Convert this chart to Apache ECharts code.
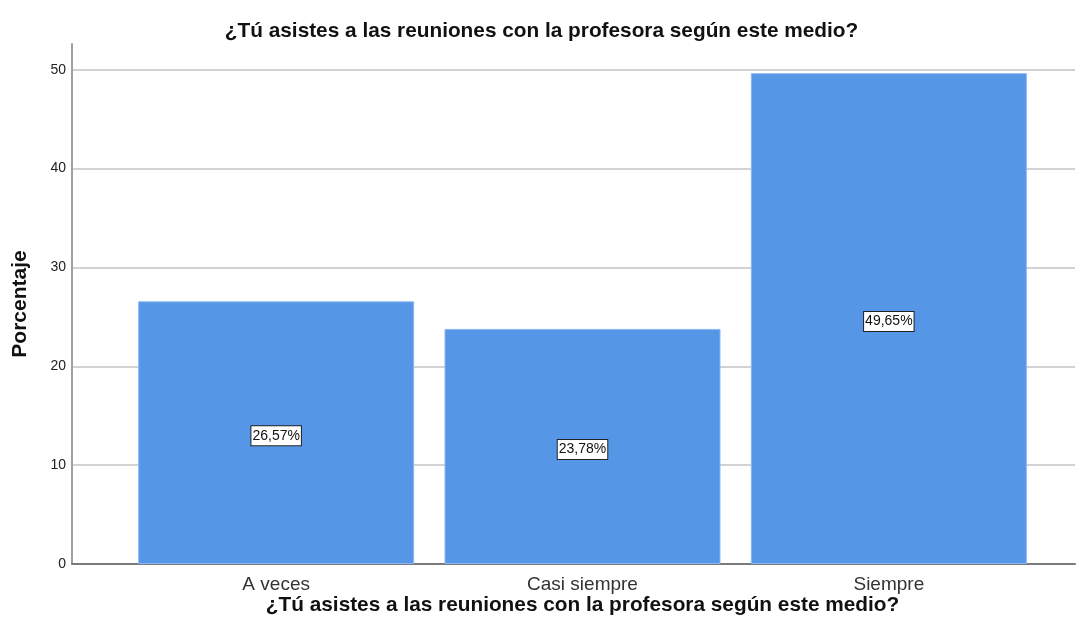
<!DOCTYPE html>
<html style="height: 100%">
<head>
<meta charset="utf-8">
<script src="https://cdn.jsdelivr.net/npm/echarts@6/dist/echarts.min.js"></script>
</head>
<body style="height: 100%; margin: 0; background: #fff">
<div id="container" style="width: 1083px; height: 639px"></div>
<script type="text/javascript">
// data
var categories = ['A veces', 'Casi siempre', 'Siempre'];
var percents = [26.57, 23.78, 49.65];
var yTicks = [0, 10, 20, 30, 40, 50];
var titleText = '¿Tú asistes a las reuniones con la profesora según este medio?';

var chart = echarts.init(document.getElementById('container'));
var font = '"Liberation Sans", Arial, sans-serif';
var yMax = 52.6;

var option = {
    backgroundColor: '#ffffff',
    animation: false,
    title: {
        text: titleText,
        left: 'center',
        top: 16,
        textStyle: { fontFamily: font, fontSize: 20.8, fontWeight: 'bold', color: '#111' }
    },
    grid: [
        // frame grid: y axis, grid lines, base line
        { left: 72, right: 8, top: 44, bottom: 75 },
        // bars sit inside the frame with side margins
        { left: 123, right: 41, top: 44, bottom: 75 }
    ],
    xAxis: [{
        gridIndex: 0,
        type: 'value',
        min: 0, max: 1,
        axisLine: { show: true, lineStyle: { color: '#7a7a7a', width: 2 } },
        axisTick: { show: false },
        axisLabel: { show: false },
        splitLine: { show: false }
    }, {
        gridIndex: 1,
        type: 'category',
        data: categories,
        axisLine: { show: false },
        axisTick: { show: false },
        axisLabel: { fontFamily: font, fontSize: 19, color: '#333', margin: 11 },
        name: titleText,
        nameLocation: 'middle',
        nameGap: 31,
        nameMoveOverlap: false,
        nameTextStyle: { fontFamily: font, fontSize: 20.8, fontWeight: 'bold', color: '#111' }
    }],
    yAxis: [{
        gridIndex: 0,
        type: 'value',
        min: 0, max: yMax, interval: 10,
        name: 'Porcentaje',
        nameLocation: 'middle',
        nameGap: 41,
        nameMoveOverlap: false,
        nameTextStyle: { fontFamily: font, fontSize: 21, fontWeight: 'bold', color: '#111' },
        axisLine: { show: true, lineStyle: { color: '#a0a0a0', width: 2 } },
        axisTick: { show: false },
        axisLabel: {
            fontFamily: font, fontSize: 14, color: '#222', margin: 6,
            showMaxLabel: false,
            formatter: function (v) { return yTicks.indexOf(v) >= 0 ? String(v) : ''; }
        },
        splitLine: { show: true, showMaxLine: false, lineStyle: { color: '#d2d2d2', width: 2 } }
    }, {
        gridIndex: 1,
        type: 'value',
        min: 0, max: yMax, interval: 10,
        show: false
    }],
    series: [{
        type: 'bar',
        xAxisIndex: 1,
        yAxisIndex: 1,
        data: percents,
        barWidth: 276,
        itemStyle: { color: '#5596e6', borderColor: '#8ab8ef', borderWidth: 1 },
        label: {
            show: true,
            position: 'inside',
            offset: [0, 3],
            formatter: function (p) { return p.value.toFixed(2).replace('.', ',') + '%'; },
            fontFamily: font,
            fontSize: 14,
            color: '#111',
            backgroundColor: '#ffffff',
            borderColor: '#222',
            borderWidth: 1,
            padding: [3, 1, 2, 1]
        }
    }]
};

chart.setOption(option);
</script>
</body>
</html>
